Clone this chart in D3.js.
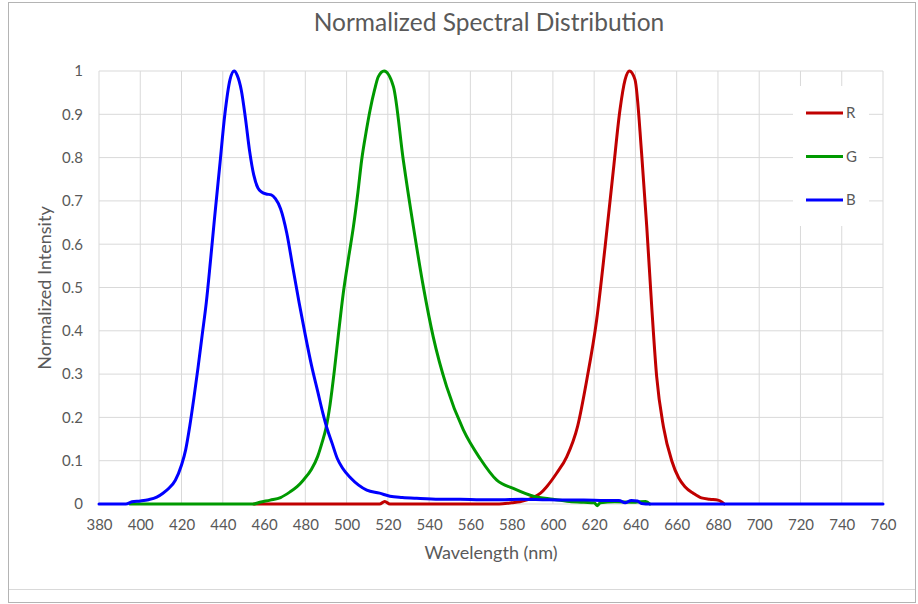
<!DOCTYPE html>
<html>
<head>
<meta charset="utf-8" />
<title>Normalized Spectral Distribution</title>
<script src="https://cdn.jsdelivr.net/npm/d3@7"></script>
<style>
  body { margin: 0; background: #fff; }
  text { font-family: Lato, "Open Sans", sans-serif; fill: #595959; }
</style>
</head>
<body>
<svg width="918" height="604"></svg>
<script>
// wavelength ticks
let xTicks = [380,400,420,440,460,480,500,520,540,560,580,600,620,640,660,680,700,720,740,760];
let yTicks = [0,0.1,0.2,0.3,0.4,0.5,0.6,0.7,0.8,0.9,1];

// R series
let rWl  = [455,516,518.5,521,574,580,584,590.5,594,597,601.8,606.7,612,616.4,621.2,625.3,629.3,632.5,635,637.1,639.8,643,645.5,648,650.3,653.6,657.6,661,664,668,672,676,680,682,683];
let rVal = [0,0,0.006,0,0,0.003,0.005,0.015,0.025,0.04,0.071,0.109,0.18,0.286,0.425,0.594,0.771,0.91,0.98,1,0.98,0.81,0.64,0.448,0.294,0.178,0.1,0.06,0.04,0.025,0.014,0.011,0.009,0.004,0];

// G series
let gWl  = [395,455,458,463,468,472.6,476,479,483,486,488,490,492,494,496,498.4,501,503.3,505.5,507.3,509.5,511.4,513.5,515.4,518.2,522.7,527.5,532.4,537.2,542,548.5,556.6,564.7,572.8,580.8,590.5,600,608,615,620,621.5,623,630,640,645,647];
let gVal = [0,0,0.004,0.009,0.015,0.028,0.04,0.055,0.08,0.11,0.14,0.175,0.23,0.305,0.39,0.487,0.57,0.64,0.72,0.794,0.86,0.91,0.955,0.987,1,0.964,0.794,0.64,0.502,0.386,0.271,0.171,0.105,0.055,0.036,0.018,0.011,0.006,0.004,0.003,-0.004,0.003,0.005,0.004,0.006,0];

// B series
let bWl  = [380,393,396,400,404,408,411,414,417,420,422,424,426,428,430,432,434,436,438.5,441,443.5,445.5,447,449,451,453,455,457,459,461,463.5,465.5,468,471,474,477,480,483,486,488.5,490.5,493,495.5,498,502,509.8,516,521,527,534,545,555,565,575,585,595,605,615,625,632,635,638,641,643,645,760];
let bVal = [0,0,0.005,0.007,0.01,0.016,0.025,0.037,0.055,0.09,0.125,0.18,0.245,0.315,0.39,0.465,0.56,0.66,0.78,0.9,0.98,1,0.99,0.955,0.89,0.815,0.76,0.73,0.72,0.716,0.714,0.705,0.682,0.626,0.545,0.465,0.39,0.32,0.26,0.21,0.175,0.14,0.105,0.083,0.06,0.032,0.025,0.018,0.015,0.013,0.011,0.011,0.01,0.01,0.011,0.01,0.009,0.009,0.008,0.008,0.003,0.008,0.007,0.001,0,0];

let seriesNames = ["R","G","B"];
let seriesColors = ["#c00000","#009900","#0000ff"];

let svg = d3.select("svg");
let margin = {top:71, left:99, right:35, bottom:100};
let innerWidth = 918 - margin.left - margin.right;   // 784
let innerHeight = 604 - margin.top - margin.bottom;  // 433

// chart frame
svg.append("rect").attr("x",8.5).attr("y",2.5).attr("width",907).attr("height",600)
   .attr("fill","#fff").attr("stroke","#b4b4b4");
svg.append("line").attr("x1",9).attr("x2",915).attr("y1",589.5).attr("y2",589.5)
   .attr("stroke","#d9d9d9");

let xScale = d3.scaleLinear().domain([380,760]).range([0,innerWidth]);
let yScale = d3.scaleLinear().domain([0,1]).range([innerHeight,0]);

const g = svg.append("g").attr("transform",`translate(${margin.left},${margin.top})`);

// gridlines
g.append("g").selectAll("line").data(xTicks).enter().append("line")
  .attr("x1",d=>xScale(d)).attr("x2",d=>xScale(d))
  .attr("y1",0).attr("y2",innerHeight)
  .attr("stroke","#d9d9d9").attr("stroke-width",1);
g.append("g").selectAll("line").data(yTicks).enter().append("line")
  .attr("x1",0).attr("x2",innerWidth)
  .attr("y1",d=>yScale(d)).attr("y2",d=>yScale(d))
  .attr("stroke","#d9d9d9").attr("stroke-width",1);

// axes (labels only)
const xAxisG = g.append("g").attr("transform",`translate(0,${innerHeight})`)
  .call(d3.axisBottom(xScale).tickValues(xTicks).tickSize(0).tickPadding(15).tickFormat(d3.format("d")));
xAxisG.select(".domain").remove();
xAxisG.selectAll("text").style("font-size","15px").attr("fill","#595959")
  .style("font-family","Lato, sans-serif");

const yAxisG = g.append("g")
  .call(d3.axisLeft(yScale).tickValues(yTicks).tickSize(0).tickPadding(16).tickFormat(d3.format("")));
yAxisG.select(".domain").remove();
yAxisG.selectAll("text").style("font-size","15px").attr("fill","#595959")
  .style("font-family","Lato, sans-serif");

// lines
let line = d3.line().x(d=>xScale(d[0])).y(d=>yScale(d[1])).curve(d3.curveMonotoneX);
let seriesData = [
  d3.zip(rWl,rVal),
  d3.zip(gWl,gVal),
  d3.zip(bWl,bVal)
];
g.selectAll("path.series").data(seriesData).enter().append("path")
  .attr("class","series")
  .attr("d",line)
  .attr("fill","none")
  .attr("stroke",(d,i)=>seriesColors[i])
  .attr("stroke-width",3)
  .attr("stroke-linejoin","round")
  .attr("stroke-linecap","round");

// legend
const legend = svg.append("g");
legend.append("rect").attr("x",793).attr("y",86).attr("width",76).attr("height",140).attr("fill","#fff");
seriesNames.forEach((name,i)=>{
  let ly = 113 + i*43.5;
  legend.append("line").attr("x1",806).attr("x2",843).attr("y1",ly).attr("y2",ly)
    .attr("stroke",seriesColors[i]).attr("stroke-width",3);
  legend.append("text").attr("x",846).attr("y",ly+5).text(name)
    .style("font-size","15px");
});

// titles
svg.append("text").attr("x",489).attr("y",31).attr("text-anchor","middle")
  .style("font-size","24.5px").text("Normalized Spectral Distribution");
svg.append("text").attr("x",491).attr("y",559).attr("text-anchor","middle")
  .style("font-size","18px").text("Wavelength (nm)");
svg.append("text").attr("transform","translate(51,288) rotate(-90)").attr("text-anchor","middle")
  .style("font-size","18px").text("Normalized Intensity");
</script>
</body>
</html>
